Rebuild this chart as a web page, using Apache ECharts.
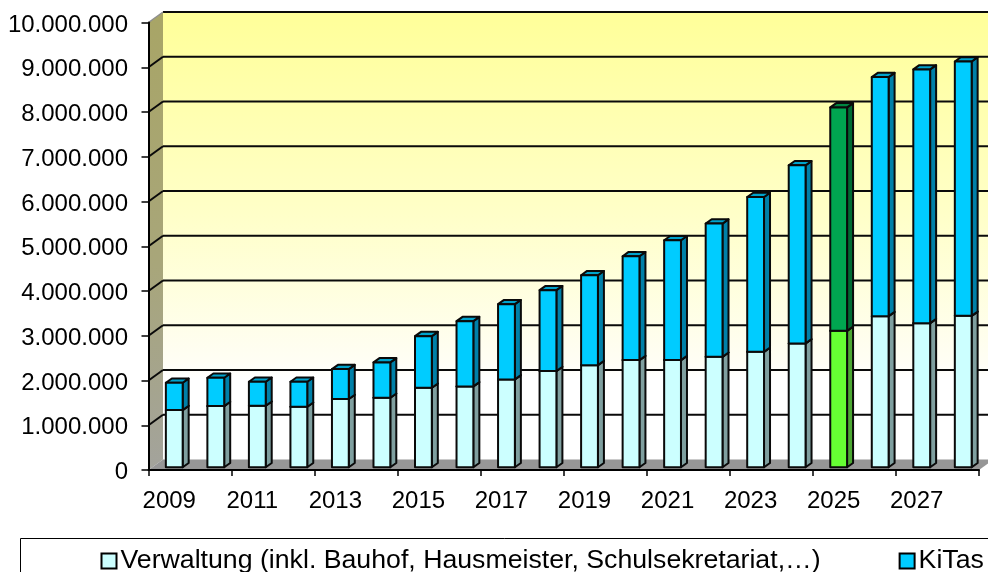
<!DOCTYPE html>
<html>
<head>
<meta charset="utf-8">
<style>html,body{margin:0;padding:0;background:#fff}#c{width:988px;height:572px}</style>
<script src="https://cdn.jsdelivr.net/npm/echarts@6/dist/echarts.min.js"></script>
</head>
<body>
<div id="c"></div>
<script>
const years = ['2009','2010','2011','2012','2013','2014','2015','2016','2017','2018','2019','2020','2021','2022','2023','2024','2025','2026','2027','2028'];
const verwaltung = [1279000,1368000,1375000,1353000,1525000,1554000,1777000,1808000,1964000,2150000,2283000,2395000,2395000,2469000,2580000,2768000,3049000,3377000,3221000,3384000];
const kitas = [609000,632000,536000,558000,669000,790000,1154000,1458000,1681000,1808000,2009000,2322000,2679000,2977000,3460000,3980000,4993000,5342000,5670000,5685000];
const gridValues = [0,1000000,2000000,3000000,4000000,5000000,6000000,7000000,8000000,9000000,10000000];
const highlightYear = '2025';
const seriesNames = ['Verwaltung (inkl. Bauhof, Hausmeister, Schulsekretariat,…)','KiTas'];

const FONT = '"Liberation Sans", Arial, sans-serif';
const WALL_DX = 14.5, WALL_DY = -10.5;      // depth of the 3D box
const FRONT_DX = 5, FRONT_DY = -2.7;        // bars stand slightly inside the box
const BAR_DX = 6, BAR_DY = -4.3;            // depth of each bar
const BAR_RATIO = 0.405;

const palettes = {
  verwaltung: {front:'#CCFFFF', side:'#7F9F9F', top:'#A3CCCC'},
  kitas:      {front:'#00CCFF', side:'#0080A8', top:'#00A3CC'},
  verwaltungHi: {front:'#66FF33', side:'#4CA833', top:'#52CC29'},
  kitasHi:      {front:'#00A650', side:'#006B33', top:'#008540'}
};
const stroke = '#0a0a0a';

function barRender(values, bases, pal, palHi) {
  return function (params, api) {
    const i = api.value(0);
    const w = api.size([1, 0])[0] * BAR_RATIO;
    const pTop = api.coord([i, bases[i] + values[i]]);
    const pBase = api.coord([i, bases[i]]);
    const x0 = pTop[0] + FRONT_DX - w / 2, x1 = x0 + w;
    const yT = pTop[1] + FRONT_DY, yB = pBase[1] + FRONT_DY;
    const c = years[i] === highlightYear ? palHi : pal;
    const ls = {stroke, lineWidth: 2, lineJoin: 'round'};
    const poly = (points, fill) => ({type: 'polygon', shape: {points}, style: Object.assign({fill}, ls)});
    return {type: 'group', children: [
      poly([[x1,yB],[x1+BAR_DX,yB+BAR_DY],[x1+BAR_DX,yT+BAR_DY],[x1,yT]], c.side),
      poly([[x0,yT],[x1,yT],[x1+BAR_DX,yT+BAR_DY],[x0+BAR_DX,yT+BAR_DY]], c.top),
      poly([[x0,yB],[x1,yB],[x1,yT],[x0,yT]], c.front)
    ]};
  };
}

function backdropRender(params, api) {
  const cs = params.coordSys;
  const v = api.value(1);
  const y = api.coord([0, v])[1];
  const xL = cs.x, xR = cs.x + cs.width;
  const children = [];
  if (params.dataIndex === 0) {
    const yB = cs.y + cs.height, yT = cs.y;
    children.push({type:'rect', shape:{x:xL+WALL_DX, y:yT+WALL_DY, width:cs.width, height:cs.height},
      style:{fill:new echarts.graphic.LinearGradient(0,0,0,1,[
        {offset:0,color:'#FFFF99'},{offset:0.45,color:'#FFFFC8'},{offset:0.78,color:'#FFFEF4'},{offset:0.82,color:'#FFFFFF'},{offset:1,color:'#FFFFFF'}])}});
    children.push({type:'polygon', shape:{points:[[xL,yB],[xL+WALL_DX,yB+WALL_DY],[xL+WALL_DX,yT+WALL_DY],[xL,yT]]},
      style:{fill:new echarts.graphic.LinearGradient(0,0,0,1,[{offset:0,color:'#A8A566'},{offset:0.55,color:'#A8A67A'},{offset:1,color:'#A3A39C'}])}});
    children.push({type:'polygon', shape:{points:[[xL,yB],[xR,yB],[xR+WALL_DX,yB+WALL_DY],[xL+WALL_DX,yB+WALL_DY]]},
      style:{fill:'#969696'}});
  }
  if (v > 0) {
    const top = v === gridValues[gridValues.length - 1];
    children.push({type:'line', shape:{x1:xL+WALL_DX,y1:y+WALL_DY,x2:xR+WALL_DX,y2:y+WALL_DY}, style:{stroke:'#0a0a0a',lineWidth:2.2}});
    children.push({type:'line', shape:{x1:xL,y1:y,x2:xL+WALL_DX,y2:y+WALL_DY}, style:{stroke:top?'#8f8f8f':'#0a0a0a',lineWidth:top?1.5:2}});
  }
  return {type:'group', children};
}

const thousands = v => '{v|' + String(v).replace(/\B(?=(\d{3})+$)/g, '.') + '}';

const chart = echarts.init(document.getElementById('c'), null, {renderer:'canvas'});
chart.setOption({
  animation: false,
  backgroundColor: '#fff',
  textStyle: {fontFamily: FONT},
  grid: {left:148.5, top:22.5, width:830.5, height:447.5},
  legend: {
    show: true,
    data: seriesNames.map(name => ({name, icon:'rect'})),
    left: 20.5, top: 538.5, width: 1300,
    padding: [9, 400, 10, 80],
    borderColor:'#000', borderWidth:1,
    itemWidth:15, itemHeight:15, itemGap:78,
    itemStyle:{borderColor:'#000', borderWidth:2},
    textStyle:{fontFamily:FONT, fontSize:26.7, color:'#000', padding:[0,0,0,-1]}
  },
  xAxis: {
    type:'category', data:years, z:5, boundaryGap:true,
    axisLine:{lineStyle:{color:'#000',width:2}},
    axisTick:{show:true,alignWithLabel:false,length:6,lineStyle:{color:'#000',width:1.5}},
    axisLabel:{interval:1,color:'#000',fontSize:24,fontFamily:FONT,margin:19},
    splitLine:{show:false}
  },
  yAxis: {
    type:'value', min:0, max:10000000, interval:1000000, z:5,
    axisLine:{show:true,lineStyle:{color:'#000',width:2}},
    axisTick:{show:true,length:7,lineStyle:{color:'#000',width:1.5}},
    axisLabel:{color:'#000',fontSize:24,fontFamily:FONT,margin:20.5,formatter:thousands,
      rich:{v:{color:'#000',fontSize:24,fontFamily:FONT,padding:[5,0,0,0]}}},
    splitLine:{show:false}
  },
  series: [
    {type:'custom', name:'backdrop', z:1, silent:true, renderItem:backdropRender,
     data:gridValues.map(v=>[0,v]), encode:{x:0,y:1}},
    {type:'custom', name:seriesNames[0], z:6, silent:true,
     itemStyle:{color:palettes.verwaltung.front},
     renderItem:barRender(verwaltung, years.map(()=>0), palettes.verwaltung, palettes.verwaltungHi),
     data:verwaltung.map((v,i)=>[i,v]), encode:{x:0,y:1}},
    {type:'custom', name:seriesNames[1], z:6, silent:true,
     itemStyle:{color:palettes.kitas.front},
     renderItem:barRender(kitas, verwaltung, palettes.kitas, palettes.kitasHi),
     data:kitas.map((v,i)=>[i,verwaltung[i]+v]), encode:{x:0,y:1}}
  ]
});
</script>
</body>
</html>
